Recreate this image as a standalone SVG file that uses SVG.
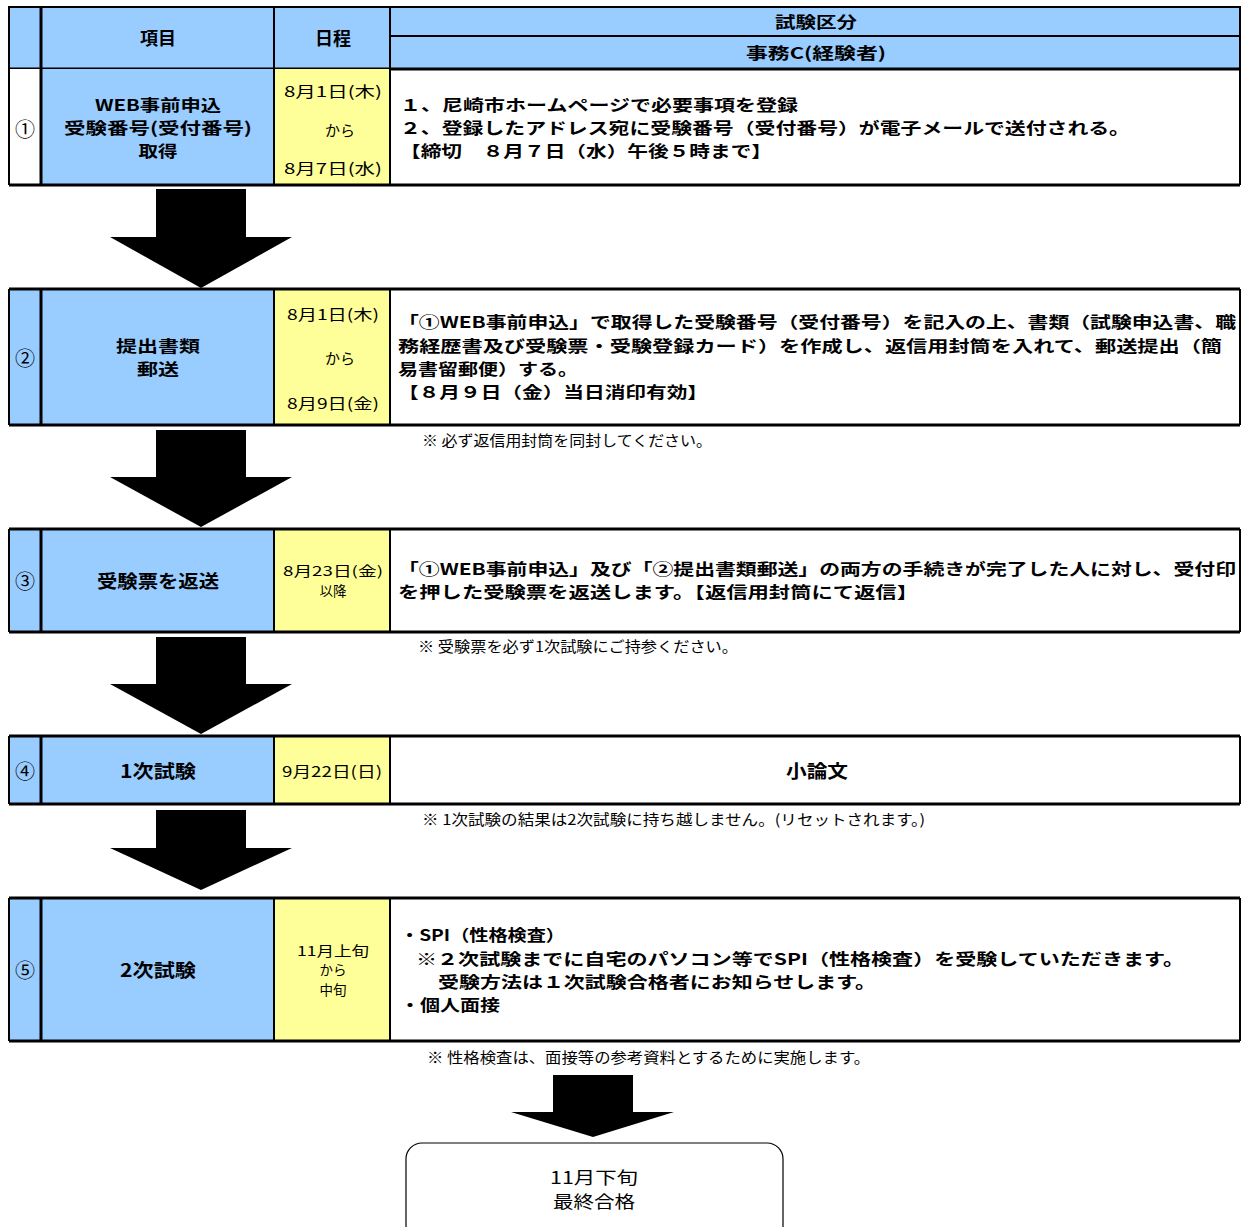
<svg xmlns="http://www.w3.org/2000/svg" width="1241" height="1227" viewBox="0 0 1241 1227">
<style>
text{font-family:"Noto Sans CJK JP","Noto Sans",sans-serif;fill:#000}
.h{font-size:18px;font-weight:bold;text-anchor:middle;dominant-baseline:central}
.h2{font-size:16px;font-weight:bold;text-anchor:middle;dominant-baseline:central}
.d{font-size:15px;text-anchor:middle;dominant-baseline:central}
.d2{font-size:13.5px;text-anchor:middle;dominant-baseline:central}
.n{font-size:20px;text-anchor:middle;dominant-baseline:central}
.c{font-size:16px;font-weight:bold;dominant-baseline:central}
.note{font-size:14.5px;dominant-baseline:central}
.blue{fill:#99CCFF}
.yel{fill:#FFFF99}
.wh{fill:#FFFFFF}
.ln{stroke:#000;stroke-width:2;fill:none}
.tk{stroke:#000;stroke-width:3;fill:none}
.arr{fill:#000}
</style>
<rect width="1241" height="1227" fill="#fff"/>

<g id="header">
<rect class="blue" x="9" y="7" width="1231" height="62"/>
<path class="ln" d="M9 7H1240V69H9Z M274 7V69 M390 7V69 M390 36H1240"/>
<path class="tk" d="M41 7V69 M9 69H1240"/>
<text class="h" x="158" y="37">項目</text>
<text class="h" x="333" y="37">日程</text>
<text class="h2" x="816" y="21" textLength="82" lengthAdjust="spacingAndGlyphs">試験区分</text>
<text class="h2" x="816" y="52" textLength="140" lengthAdjust="spacingAndGlyphs">事務C(経験者)</text>
</g>

<g id="step1">
<rect class="wh" x="9" y="69" width="32" height="116"/>
<rect class="blue" x="41" y="69" width="233" height="116"/>
<rect class="yel" x="274" y="69" width="116" height="116"/>
<path class="ln" d="M9 69V185 M274 69V185 M390 69V185 M1240 69V185"/>
<path class="tk" d="M41 69V185 M9 185H1240"/>
<text class="n" x="25" y="128">①</text>
<text class="h2" x="158" y="104" textLength="126" lengthAdjust="spacingAndGlyphs">WEB事前申込</text>
<text class="h2" x="158" y="127" textLength="188" lengthAdjust="spacingAndGlyphs">受験番号(受付番号)</text>
<text class="h2" x="158" y="150" textLength="39" lengthAdjust="spacingAndGlyphs">取得</text>
<text class="d" x="333" y="90" textLength="98" lengthAdjust="spacingAndGlyphs">8月1日(木)</text>
<text class="d" x="340" y="129">から</text>
<text class="d" x="333" y="167" textLength="98" lengthAdjust="spacingAndGlyphs">8月7日(水)</text>
<text class="c" x="400" y="104" textLength="398" lengthAdjust="spacingAndGlyphs">１、尼崎市ホームページで必要事項を登録</text>
<text class="c" x="400" y="127" textLength="730" lengthAdjust="spacingAndGlyphs">２、登録したアドレス宛に受験番号（受付番号）が電子メールで送付される。</text>
<text class="c" x="400" y="150" textLength="372" lengthAdjust="spacingAndGlyphs">【締切　８月７日（水）午後５時まで】</text>
</g>

<g id="step2">
<rect class="blue" x="9" y="289" width="265" height="136"/>
<rect class="yel" x="274" y="289" width="116" height="136"/>
<path class="ln" d="M9 289V425 M274 289V425 M390 289V425 M1240 289V425"/>
<path class="tk" d="M9 289H1240 M41 289V425 M9 425H1240"/>
<text class="n" x="25" y="357">②</text>
<text class="h2" x="158" y="345" textLength="84" lengthAdjust="spacingAndGlyphs">提出書類</text>
<text class="h2" x="158" y="368" textLength="42" lengthAdjust="spacingAndGlyphs">郵送</text>
<text class="d" x="333" y="313" textLength="92" lengthAdjust="spacingAndGlyphs">8月1日(木)</text>
<text class="d" x="340" y="357">から</text>
<text class="d" x="333" y="402" textLength="92" lengthAdjust="spacingAndGlyphs">8月9日(金)</text>
<text class="c" x="398" y="321" textLength="838" lengthAdjust="spacingAndGlyphs">「①WEB事前申込」で取得した受験番号（受付番号）を記入の上、書類（試験申込書、職</text>
<text class="c" x="398" y="345" textLength="824" lengthAdjust="spacingAndGlyphs">務経歴書及び受験票・受験登録カード）を作成し、返信用封筒を入れて、郵送提出（簡</text>
<text class="c" x="398" y="368" textLength="180" lengthAdjust="spacingAndGlyphs">易書留郵便）する。</text>
<text class="c" x="398" y="391" textLength="310" lengthAdjust="spacingAndGlyphs">【８月９日（金）当日消印有効】</text>
<text class="note" x="422" y="439" textLength="290" lengthAdjust="spacingAndGlyphs">※  必ず返信用封筒を同封してください。</text>
</g>

<g id="step3">
<rect class="blue" x="9" y="529" width="265" height="103"/>
<rect class="yel" x="274" y="529" width="116" height="103"/>
<path class="ln" d="M9 529V632 M274 529V632 M390 529V632 M1240 529V632"/>
<path class="tk" d="M9 529H1240 M41 529V632 M9 632H1240"/>
<text class="n" x="25" y="580">③</text>
<text class="h" x="158" y="580" textLength="122" lengthAdjust="spacingAndGlyphs">受験票を返送</text>
<text class="d2" x="333" y="570" textLength="100" lengthAdjust="spacingAndGlyphs">8月23日(金)</text>
<text class="d2" x="333" y="590">以降</text>
<text class="c" x="398" y="568" textLength="838" lengthAdjust="spacingAndGlyphs">「①WEB事前申込」及び「②提出書類郵送」の両方の手続きが完了した人に対し、受付印</text>
<text class="c" x="398" y="591" textLength="520" lengthAdjust="spacingAndGlyphs">を押した受験票を返送します。【返信用封筒にて返信】</text>
<text class="note" x="418" y="645" textLength="320" lengthAdjust="spacingAndGlyphs">※  受験票を必ず1次試験にご持参ください。</text>
</g>

<g id="step4">
<rect class="blue" x="9" y="736" width="265" height="68"/>
<rect class="yel" x="274" y="736" width="116" height="68"/>
<path class="ln" d="M9 736V804 M274 736V804 M390 736V804 M1240 736V804"/>
<path class="tk" d="M9 736H1240 M41 736V804 M9 804H1240"/>
<text class="n" x="25" y="770">④</text>
<text class="h" x="158" y="770" textLength="76" lengthAdjust="spacingAndGlyphs">1次試験</text>
<text class="d" x="332" y="770" textLength="100" lengthAdjust="spacingAndGlyphs">9月22日(日)</text>
<text class="h" x="817" y="770" textLength="62" lengthAdjust="spacingAndGlyphs">小論文</text>
<text class="note" x="422" y="818" textLength="503" lengthAdjust="spacingAndGlyphs">※  1次試験の結果は2次試験に持ち越しません。(リセットされます。)</text>
</g>

<g id="step5">
<rect class="blue" x="9" y="898" width="265" height="143"/>
<rect class="yel" x="274" y="898" width="116" height="143"/>
<path class="ln" d="M9 898V1041 M274 898V1041 M390 898V1041 M1240 898V1041"/>
<path class="tk" d="M9 898H1240 M41 898V1041 M9 1041H1240"/>
<text class="n" x="25" y="969">⑤</text>
<text class="h" x="158" y="969" textLength="76" lengthAdjust="spacingAndGlyphs">2次試験</text>
<text class="d2" x="333" y="950" textLength="72" lengthAdjust="spacingAndGlyphs">11月上旬</text>
<text class="d2" x="333" y="969">から</text>
<text class="d2" x="333" y="989">中旬</text>
<text class="c" x="400" y="934" textLength="165" lengthAdjust="spacingAndGlyphs">・SPI（性格検査）</text>
<text class="c" x="416" y="958" textLength="768" lengthAdjust="spacingAndGlyphs">※２次試験までに自宅のパソコン等でSPI（性格検査）を受験していただきます。</text>
<text class="c" x="438" y="981" textLength="438" lengthAdjust="spacingAndGlyphs">受験方法は１次試験合格者にお知らせします。</text>
<text class="c" x="400" y="1004" textLength="100" lengthAdjust="spacingAndGlyphs">・個人面接</text>
<text class="note" x="427" y="1056" textLength="443" lengthAdjust="spacingAndGlyphs">※  性格検査は、面接等の参考資料とするために実施します。</text>
</g>

<g id="final">
<rect x="406" y="1143" width="377" height="110" rx="16" ry="16" fill="#fff" stroke="#000" stroke-width="1.2"/>
<text x="594" y="1176" font-size="17" text-anchor="middle" dominant-baseline="central" textLength="88" lengthAdjust="spacingAndGlyphs">11月下旬</text>
<text x="594" y="1200" font-size="17" text-anchor="middle" dominant-baseline="central" textLength="82" lengthAdjust="spacingAndGlyphs">最終合格</text>
</g>

<g id="connectors">
<polygon class="arr" points="156,189 246,189 246,237 292,237 201,288 110,237 156,237"/>
<polygon class="arr" points="156,430 246,430 246,477 292,477 201,527 110,477 156,477"/>
<polygon class="arr" points="156,637 246,637 246,684 292,684 201,734 110,684 156,684"/>
<polygon class="arr" points="156,810 246,810 246,848 292,848 201,890 110,848 156,848"/>
<polygon class="arr" points="553,1075 633,1075 633,1112 674,1112 593,1137 511,1112 553,1112"/>
</g>
</svg>
